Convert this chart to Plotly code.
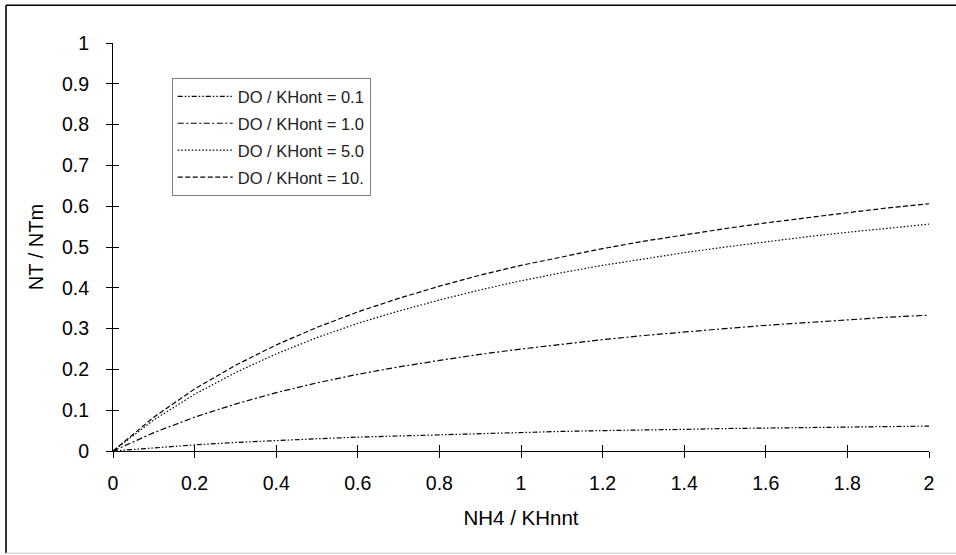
import plotly.graph_objects as go

# x values (NH4 / KHnnt)
x_vals = [0.0, 0.1, 0.2, 0.3, 0.4, 0.5, 0.6, 0.7, 0.8, 0.9, 1.0,
          1.1, 1.2, 1.3, 1.4, 1.5, 1.6, 1.7, 1.8, 1.9, 2.0]

# NT / NTm
do_01 = [0, 0.008, 0.015, 0.021, 0.026, 0.030, 0.034, 0.037, 0.040, 0.043, 0.045,
         0.048, 0.050, 0.051, 0.053, 0.055, 0.056, 0.057, 0.058, 0.060, 0.061]
do_10 = [0, 0.045, 0.083, 0.115, 0.143, 0.167, 0.188, 0.206, 0.222, 0.237, 0.250,
         0.262, 0.273, 0.283, 0.292, 0.300, 0.308, 0.315, 0.321, 0.328, 0.333]
do_50 = [0, 0.076, 0.139, 0.192, 0.238, 0.278, 0.313, 0.343, 0.370, 0.395, 0.417,
         0.437, 0.455, 0.471, 0.486, 0.500, 0.513, 0.525, 0.536, 0.546, 0.556]
do_100 = [0, 0.083, 0.152, 0.210, 0.260, 0.303, 0.341, 0.374, 0.404, 0.431, 0.455,
          0.476, 0.496, 0.514, 0.530, 0.545, 0.559, 0.572, 0.584, 0.596, 0.606]

series_names = ["DO / KHont = 0.1", "DO / KHont = 1.0", "DO / KHont = 5.0", "DO / KHont = 10."]
series_vals = [do_01, do_10, do_50, do_100]
dashes = ["5px,2px,1.5px,2px,1.5px,2px", "6px,2.5px,2px,2.5px", "1.5px,2px", "5px,2.5px"]

x_ticks = [0, 0.2, 0.4, 0.6, 0.8, 1, 1.2, 1.4, 1.6, 1.8, 2]
y_ticks = [0, 0.1, 0.2, 0.3, 0.4, 0.5, 0.6, 0.7, 0.8, 0.9, 1]

FONT = "Liberation Sans, Arial, sans-serif"

fig = go.Figure()
for i, (name, vals, dsh) in enumerate(zip(series_names, series_vals, dashes)):
    fig.add_trace(go.Scatter(
        x=x_vals, y=vals, mode="lines", name=name, legendgroup=f"g{i}",
        line=dict(color="black", width=1.2, dash=dsh),
    ))

# dummy trace to activate the overlay axes for inside ticks
fig.add_trace(go.Scatter(x=[], y=[], xaxis="x2", yaxis="y2", showlegend=False,
                         hoverinfo="skip"))

axis_common = dict(showgrid=False, zeroline=False, tickcolor="black",
                   tickwidth=1, ticklen=6, linecolor="black", linewidth=1)

fig.update_layout(
    width=956, height=555,
    margin=dict(l=113, r=27, t=43, b=104),
    paper_bgcolor="white", plot_bgcolor="white",
    font=dict(family=FONT, color="black", size=19.5),
    showlegend=True,
    legend=dict(
        x=0.072, y=0.914, xanchor="left", yanchor="top",
        bordercolor="#808080", borderwidth=1, bgcolor="white",
        font=dict(family=FONT, size=16.5, color="#222"),
        tracegroupgap=2.5, traceorder="grouped", itemwidth=55,
    ),
    xaxis=dict(
        range=[0, 2], tickvals=x_ticks, ticktext=[f"{v:g}" for v in x_ticks],
        ticks="outside", showline=True, ticklabelstandoff=9,
        title=dict(text="NH4 / KHnnt", standoff=17, font=dict(size=20.5)),
        automargin=False, **axis_common,
    ),
    yaxis=dict(
        range=[0, 1], tickvals=y_ticks, ticktext=[f"{v:g}" for v in y_ticks],
        ticks="outside", showline=True, ticklabelstandoff=13,
        title=dict(text="NT / NTm", standoff=12, font=dict(size=20)),
        automargin=False, **axis_common,
    ),
    xaxis2=dict(range=[0, 2], overlaying="x", anchor="y", side="bottom",
                tickvals=x_ticks, ticks="inside", showticklabels=False,
                showline=False, showgrid=False, zeroline=False,
                tickcolor="black", ticklen=6, tickwidth=1),
    yaxis2=dict(range=[0, 1], overlaying="y", anchor="x", side="left",
                tickvals=y_ticks, ticks="inside", showticklabels=False,
                showline=False, showgrid=False, zeroline=False,
                tickcolor="black", ticklen=6, tickwidth=1),
    shapes=[
        dict(type="line", xref="paper", yref="paper",
             x0=-107/816, x1=1.05, y0=(450.7-5)/408, y1=(450.7-5)/408,
             line=dict(color="black", width=1.6)),
        dict(type="line", xref="paper", yref="paper",
             x0=-107/816, x1=-107/816, y0=(450.7-5)/408, y1=(450.7-553)/408,
             line=dict(color="black", width=1.6)),
        dict(type="line", xref="paper", yref="paper",
             x0=-107/816, x1=1.05, y0=(450.7-553)/408, y1=(450.7-553)/408,
             line=dict(color="#d8d8d8", width=1.5)),
    ],
)

fig.write_html("out.html")
